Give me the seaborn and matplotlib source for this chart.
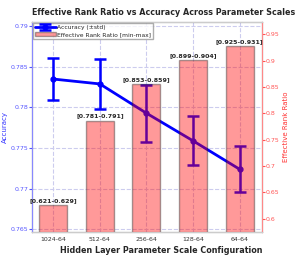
import numpy as np
import pandas as pd
import matplotlib
matplotlib.use("Agg")
import matplotlib.pyplot as plt
import seaborn as sns

configs = ['1024-64', '512-64', '256-64', '128-64', '64-64']
acc_mean = [0.7835, 0.7829, 0.7793, 0.7759, 0.7724]
acc_std = [0.0026, 0.0031, 0.0035, 0.0030, 0.0028]
err_min = [0.621, 0.781, 0.853, 0.899, 0.925]
err_max = [0.629, 0.791, 0.859, 0.904, 0.931]
err_mid = [(a + b) / 2 for a, b in zip(err_min, err_max)]

sns.set_style("white")
plt.rcParams['font.family'] = ['DejaVu Sans']

df = pd.DataFrame({'config': configs, 'ratio': err_mid})

fig, ax1 = plt.subplots(figsize=(2.99, 2.61), dpi=100)
fig.subplots_adjust(left=0.108, right=0.876, top=0.915, bottom=0.112)

# accuracy line with error bars
x = np.arange(len(configs))
ax1.errorbar(x, acc_mean, yerr=acc_std, color='#0000ff', lw=2, marker='o',
             ms=3.5, capsize=4, capthick=1.8, elinewidth=1.8,
             label='Accuracy (±std)')
ax1.set_ylim(0.7647, 0.7905)
ax1.set_yticks([0.765, 0.77, 0.775, 0.78, 0.785, 0.79])
ax1.set_yticklabels(['0.765', '0.77', '0.775', '0.78', '0.785', '0.79'])
ax1.set_ylabel('Accuracy', color='#3333ff', fontsize=5, labelpad=2)
ax1.tick_params(axis='y', colors='#5555ff', labelsize=4.5, length=2, pad=1)
ax1.tick_params(axis='x', labelsize=4.5, colors='#333333', length=2, pad=2)
ax1.grid(True, ls='--', color='#ccccee', lw=0.8)

# effective rank ratio bars on twin axis
ax2 = ax1.twinx()
sns.barplot(data=df, x='config', y='ratio', ax=ax2, color='#ff0000', alpha=0.4,
            saturation=1, width=0.6, edgecolor='#222222', linewidth=1,
            label='Effective Rank Ratio [min-max]')
for i in range(len(configs)):
    ax2.text(i, err_mid[i] + 0.004, f'[{err_min[i]:.3f}-{err_max[i]:.3f}]',
             ha='center', va='bottom', fontsize=4.5, fontweight='bold')
ax2.set_ylim(0.575, 0.973)
ax2.set_yticks([0.6, 0.65, 0.7, 0.75, 0.8, 0.85, 0.9, 0.95])
ax2.set_yticklabels(['0.6', '0.65', '0.7', '0.75', '0.8', '0.85', '0.9', '0.95'])
ax2.set_ylabel('Effective Rank Ratio', color='#ff3333', fontsize=5, labelpad=2)
ax2.tick_params(axis='y', colors='#ff5555', labelsize=4.5, length=2, pad=1)
ax2.set_xlim(-0.45, 4.48)
ax1.set_xlim(-0.45, 4.48)

ax1.set_xlabel('Hidden Layer Parameter Scale Configuration', fontsize=5.8,
               fontweight='bold', labelpad=3, x=0.56)
ax1.set_title('Effective Rank Ratio vs Accuracy Across Parameter Scales',
              fontsize=5.75, fontweight='bold', pad=5, x=0.572)

for sp in ['top', 'bottom']:
    ax2.spines[sp].set_color('#cccccc')
ax2.spines['left'].set_color('#8888ff')
ax2.spines['right'].set_color('#ff8888')

h1, l1 = ax1.get_legend_handles_labels()
h2, l2 = ax2.get_legend_handles_labels()
leg = ax2.legend(h1 + h2, l1 + l2, loc='upper left', fontsize=4.3,
                 frameon=True, borderpad=0.3, handlelength=3.5,
                 labelspacing=0.3, handletextpad=0.2,
                 borderaxespad=0.15, fancybox=False)
leg.get_frame().set_edgecolor('#999999')

fig.savefig('out.png', dpi=100)
